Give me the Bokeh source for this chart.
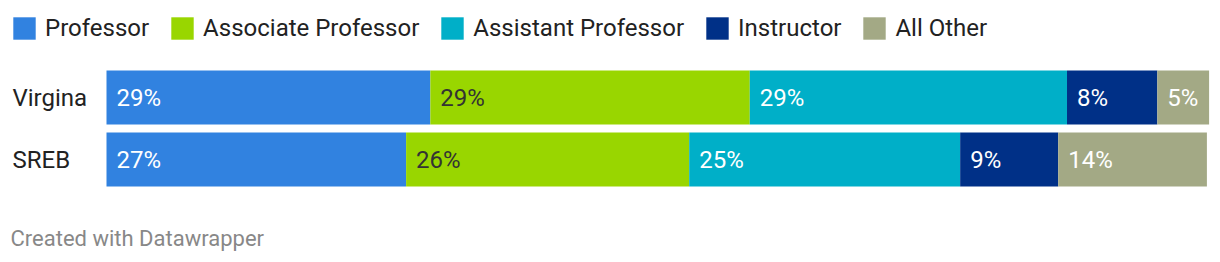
from bokeh.plotting import figure
from bokeh.models import ColumnDataSource, Range1d, Legend, LegendItem
from bokeh.core.properties import value
from bokeh.embed import file_html
from bokeh.resources import INLINE
import numpy as np

# ---- data ----
regions = ["Virgina", "SREB"]
series = ["Professor", "Associate Professor", "Assistant Professor", "Instructor", "All Other"]
professor = [29.4, 27.2]
associate = [29.0, 25.7]
assistant = [28.8, 24.6]
instructor = [8.2, 8.9]
all_other = [4.7, 13.5]
colors = ["#3182e0", "#99d600", "#00afc8", "#003087", "#a3a985"]
label_colors = ["#ffffff", "#333333", "#ffffff", "#ffffff", "#ffffff"]
footer_text = "Created with Datawrapper"

# ---- layout ----
W, H = 1220, 262
X0, X1 = 106, 1207.5
scale = (X1 - X0) / 100.0
def px(x):
    return (x - X0) / scale

row_y = [97, 159]
bar_h = 54
FONT = "Roboto"

p = figure(width=W, height=H, x_range=Range1d(px(0), px(W)), y_range=Range1d(H, 0),
           output_backend="svg", toolbar_location=None, min_border=0,
           x_axis_type=None, y_axis_type=None)
p.outline_line_color = None
p.xgrid.visible = False
p.ygrid.visible = False
p.background_fill_color = "white"
p.border_fill_color = "white"

vals = [professor, associate, assistant, instructor, all_other]
data = {"y": row_y, "region": regions}
for s, v in zip(series, vals):
    data[s] = v
source = ColumnDataSource(data)

renderers = p.hbar_stack(series, y="y", height=bar_h, color=colors, line_color=None,
                         source=source)

# value labels
arr = np.array(vals)
lefts = np.vstack([np.zeros(arr.shape[1]), np.cumsum(arr, axis=0)[:-1]])
for i, s in enumerate(series):
    txt = ["%d%%" % int(v + 0.5) for v in vals[i]]
    p.text(x=list(lefts[i]), y=row_y, text=txt, x_offset=10,
           text_baseline="middle", text_align="left",
           text_font=value(FONT), text_font_size="24px", text_color=label_colors[i])

# category labels
p.text(x=[px(12)] * len(regions), y=row_y, text=regions, text_baseline="middle",
       text_align="left", text_font=value(FONT), text_font_size="24px", text_color="#222222")

# footer
p.text(x=[px(10)], y=[238], text=[footer_text], text_baseline="middle",
       text_align="left", text_font=value(FONT), text_font_size="22px", text_color="#888888")

legend = Legend(items=[LegendItem(label=s, renderers=[r]) for s, r in zip(series, renderers)],
                orientation="horizontal", location=(10, H - 42),
                glyph_width=28, glyph_height=28, label_standoff=7, spacing=19,
                padding=0, margin=0, border_line_color=None, background_fill_alpha=0,
                label_text_font=FONT, label_text_font_size="24px", label_text_color="#222222")
p.add_layout(legend)

open("out.html", "w").write(file_html(p, INLINE))
